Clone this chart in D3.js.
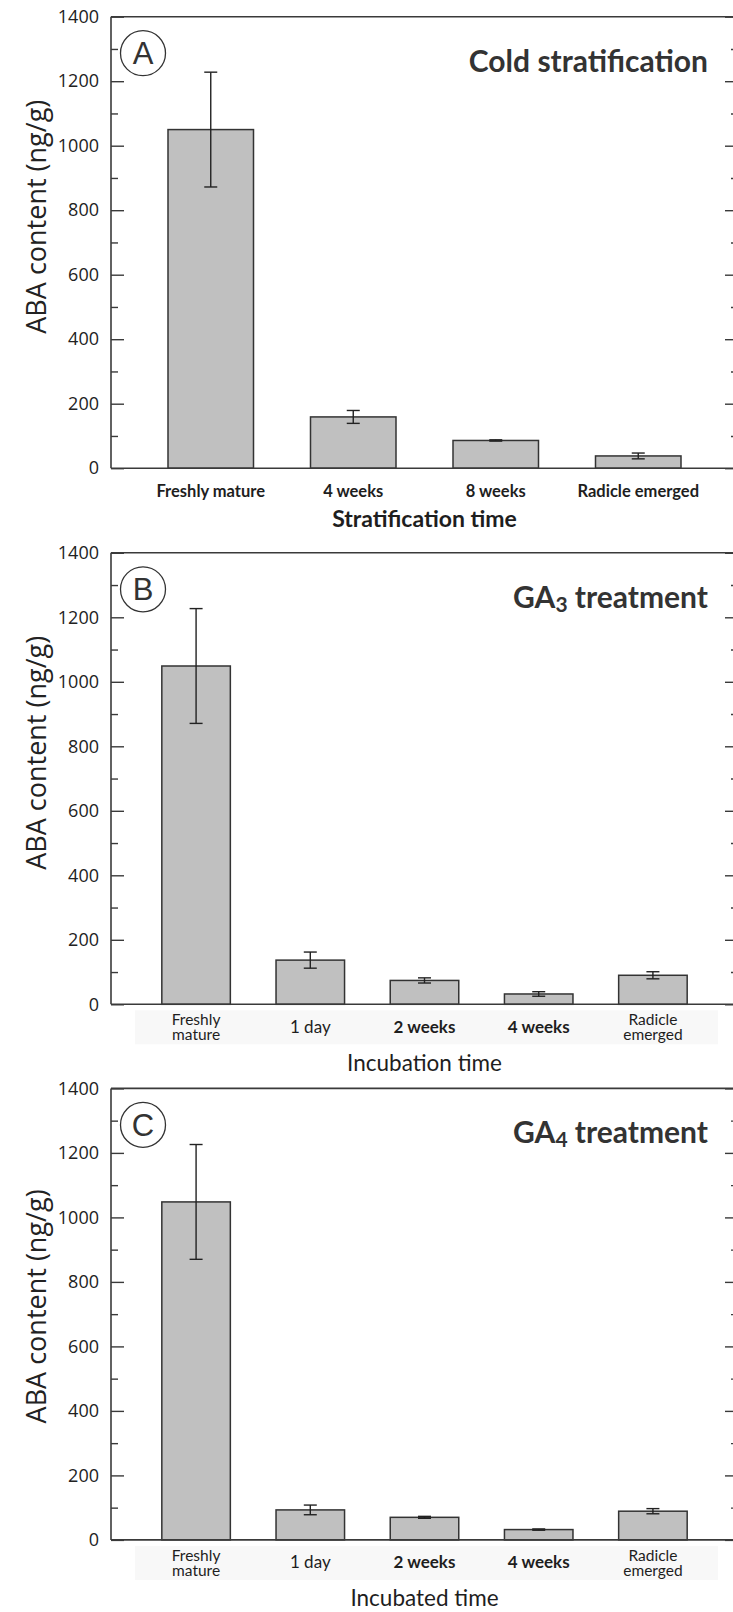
<!DOCTYPE html>
<html lang="en">
<head>
<meta charset="UTF-8" />
<title>ABA content</title>
<style>
  body { margin: 0; background: #fff; }
  svg { display: block; }
</style>
</head>
<body>
<svg id="chart" width="733" height="1612"></svg>
<script src="https://d3js.org/d3.v7.min.js"></script>
<script>
// values (ng/g, mean and error)
const stratCategories = ["Freshly mature", "4 weeks", "8 weeks", "Radicle emerged"];
const stratValues = [1050, 159, 86, 38];
const stratErrors = [178, 20, 2, 9];

const ga3Categories = ["Freshly\nmature", "1 day", "2 weeks", "4 weeks", "Radicle\nemerged"];
const ga3Values = [1049, 137, 74, 32, 90];
const ga3Errors = [178, 25, 8, 7, 11];

const ga4Categories = ["Freshly\nmature", "1 day", "2 weeks", "4 weeks", "Radicle\nemerged"];
const ga4Values = [1048, 93, 70, 32, 89];
const ga4Errors = [178, 15, 3, 2, 8];

const majorTicks = [0, 200, 400, 600, 800, 1000, 1200, 1400];
const minorTicks = [100, 300, 500, 700, 900, 1100, 1300];

const svg = d3.select("#chart");
const left = 111, right = 738, plotH = 451.5;
const axisColor = "#3a3a3a";

const panels = [
  { letter: "A", title: ["Cold stratification"], xTitle: "Stratification time", xBold: true,
    cats: stratCategories, vals: stratValues, errs: stratErrors,
    top: 16.7, outer: 0.4, labelShift: 200, xTitleDy: 59, labelBox: false },
  { letter: "B", title: ["GA", "3", " treatment"], xTitle: "Incubation time", xBold: false,
    cats: ga3Categories, vals: ga3Values, errs: ga3Errors,
    top: 552.8, outer: 0.445, labelShift: 200, xTitleDy: 67, labelBox: true },
  { letter: "C", title: ["GA", "4", " treatment"], xTitle: "Incubated time", xBold: false,
    cats: ga4Categories, vals: ga4Values, errs: ga4Errors,
    top: 1088.4, outer: 0.445, labelShift: 218, xTitleDy: 66, labelBox: true }
];

panels.forEach(drawPanel);

function drawPanel(p) {
  const g = svg.append("g");
  const zero = p.top + plotH;
  const y = d3.scaleLinear().domain([0, 1400]).range([zero, p.top]);
  const x = d3.scaleBand().domain(p.cats).range([left, right])
    .paddingInner(0.4).paddingOuter(p.outer);

  if (p.labelBox) {
    g.append("rect")
      .attr("x", 135).attr("y", zero + 6)
      .attr("width", 583).attr("height", 34)
      .attr("fill", "#f8f8f8");
  }

  // bars
  g.selectAll("rect.bar")
    .data(p.vals)
    .enter()
    .append("rect")
    .attr("class", "bar")
    .attr("x", (d, i) => x(p.cats[i]))
    .attr("y", d => y(d))
    .attr("width", x.bandwidth())
    .attr("height", d => zero - y(d))
    .attr("fill", "#c0c0c0")
    .attr("stroke", "#333").attr("stroke-width", 1.5);

  // error bars
  const err = g.selectAll("g.err")
    .data(p.vals)
    .enter()
    .append("g")
    .attr("class", "err")
    .attr("stroke", "#222").attr("stroke-width", 1.4);
  const cx = i => x(p.cats[i]) + x.bandwidth() / 2;
  err.append("line")
    .attr("x1", (d, i) => cx(i)).attr("x2", (d, i) => cx(i))
    .attr("y1", (d, i) => y(d + p.errs[i])).attr("y2", (d, i) => y(d - p.errs[i]));
  err.append("line")
    .attr("x1", (d, i) => cx(i) - 6.5).attr("x2", (d, i) => cx(i) + 6.5)
    .attr("y1", (d, i) => y(d + p.errs[i])).attr("y2", (d, i) => y(d + p.errs[i]));
  err.append("line")
    .attr("x1", (d, i) => cx(i) - 6.5).attr("x2", (d, i) => cx(i) + 6.5)
    .attr("y1", (d, i) => y(d - p.errs[i])).attr("y2", (d, i) => y(d - p.errs[i]));

  // left axis with inward ticks
  const yl = g.append("g").attr("transform", `translate(${left},0)`)
    .call(d3.axisLeft(y).tickValues(majorTicks).tickSize(-13).tickSizeOuter(0)
      .tickPadding(12).tickFormat(d3.format("d")));
  yl.select(".domain").remove();
  yl.selectAll("line").attr("stroke", axisColor).attr("stroke-width", 1.4);
  yl.selectAll("text")
    .attr("font-family", "'Open Sans', sans-serif")
    .attr("font-size", 18).attr("fill", "#222");

  const ylm = g.append("g").attr("transform", `translate(${left},0)`)
    .call(d3.axisLeft(y).tickValues(minorTicks).tickSize(-7).tickSizeOuter(0).tickFormat(""));
  ylm.select(".domain").remove();
  ylm.selectAll("line").attr("stroke", axisColor).attr("stroke-width", 1.4);

  // right axis, ticks pointing inward
  [[majorTicks, 13], [minorTicks, 7]].forEach(([vals, len]) => {
    const yr = g.append("g").attr("transform", `translate(${right},0)`)
      .call(d3.axisRight(y).tickValues(vals).tickSize(-len).tickSizeOuter(0).tickFormat(""));
    yr.select(".domain").remove();
    yr.selectAll("line").attr("stroke", axisColor).attr("stroke-width", 1.4);
  });

  // frame
  const frame = g.append("g").attr("stroke", axisColor).attr("stroke-width", 1.6).attr("fill", "none");
  frame.append("line").attr("x1", left).attr("x2", right).attr("y1", p.top).attr("y2", p.top);
  frame.append("line").attr("x1", left).attr("x2", right).attr("y1", zero).attr("y2", zero);
  frame.append("line").attr("x1", left).attr("x2", left).attr("y1", p.top).attr("y2", zero);
  frame.append("line").attr("x1", right).attr("x2", right).attr("y1", p.top).attr("y2", zero);

  // category labels
  const lab = g.selectAll("text.cat")
    .data(p.cats)
    .enter()
    .append("text")
    .attr("class", "cat")
    .attr("x", d => x(d) + x.bandwidth() / 2)
    .attr("text-anchor", "middle")
    .attr("font-family", "Lato, 'Open Sans', sans-serif")
    .attr("fill", "#1e1e1e");
  lab.each(function (d) {
    const lines = d.split("\n");
    const t = d3.select(this);
    if (lines.length === 1) {
      const bold = p.xBold || d.includes("weeks");
      t.attr("y", zero + 28.5)
        .attr("font-size", p.xBold ? 16.5 : 17)
        .attr("font-weight", bold ? "bold" : "normal")
        .text(d);
    } else {
      t.attr("font-size", 15.5);
      lines.forEach((ln, k) => {
        t.append("tspan").attr("x", x(d) + x.bandwidth() / 2)
          .attr("y", zero + 21 + k * 15).text(ln);
      });
    }
  });

  // x axis title
  g.append("text")
    .attr("x", (left + right) / 2)
    .attr("y", zero + p.xTitleDy)
    .attr("text-anchor", "middle")
    .attr("font-family", "Lato, 'Open Sans', sans-serif")
    .attr("font-size", p.xBold ? 23 : 22.5)
    .attr("font-weight", p.xBold ? "bold" : "normal")
    .attr("fill", "#1e1e1e")
    .text(p.xTitle);

  // y axis title
  g.append("text")
    .attr("transform", `translate(46,${p.top + p.labelShift}) rotate(-90)`)
    .attr("text-anchor", "middle")
    .attr("font-family", "'Open Sans', sans-serif")
    .attr("font-size", 27)
    .attr("fill", "#222")
    .text("ABA content (ng/g)");

  // panel letter in a circle
  g.append("circle")
    .attr("cx", left + 32).attr("cy", p.top + 36.5).attr("r", 22.5)
    .attr("fill", "none").attr("stroke", "#333").attr("stroke-width", 1.3);
  g.append("text")
    .attr("x", left + 32).attr("y", p.top + 36.5)
    .attr("dy", "0.36em")
    .attr("text-anchor", "middle")
    .attr("font-family", "'Liberation Sans', Arial, sans-serif")
    .attr("font-size", 31)
    .attr("fill", "#333")
    .text(p.letter);

  // panel title, top right
  const tt = g.append("text")
    .attr("x", 708).attr("y", p.top + 55)
    .attr("text-anchor", "end")
    .attr("font-family", "Lato, 'Open Sans', sans-serif")
    .attr("font-size", 30)
    .attr("font-weight", "bold")
    .attr("fill", "#333");
  if (p.title.length === 1) {
    tt.text(p.title[0]);
  } else {
    tt.append("tspan").text(p.title[0]);
    tt.append("tspan").attr("font-size", 21).attr("dy", 4).text(p.title[1]);
    tt.append("tspan").attr("dy", -4).text(p.title[2]);
  }
}
</script>
</body>
</html>
